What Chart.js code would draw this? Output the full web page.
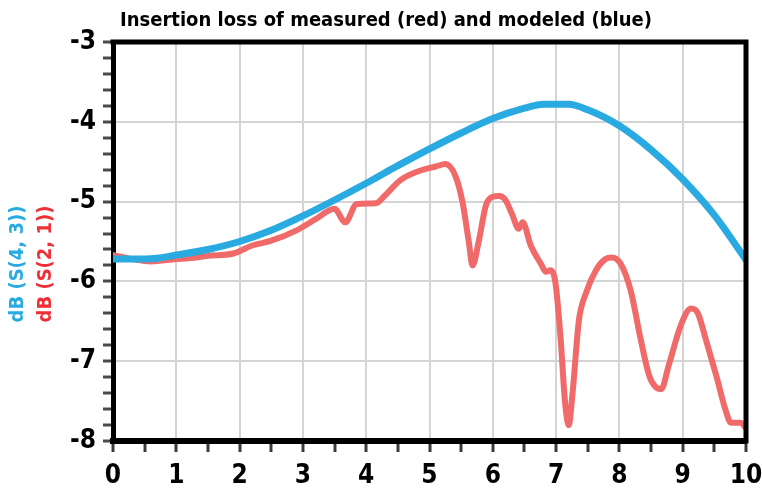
<!DOCTYPE html>
<html>
<head>
<meta charset="utf-8">
<script src="https://cdn.jsdelivr.net/npm/chart.js@4"></script>
<style>
  html, body { margin: 0; padding: 0; background: #fff; }
  #wrap { width: 762px; height: 489px; position: relative; }
</style>
</head>
<body>
<div id="wrap"><canvas id="c" width="762" height="489"></canvas></div>
<script>
// ---- data ----
const chartTitle = 'Insertion loss of measured (red) and modeled (blue)';
const yTitleModeled = 'dB (S(4, 3))';
const yTitleMeasured = 'dB (S(2, 1))';

const xTickLabels = [0, 1, 2, 3, 4, 5, 6, 7, 8, 9, 10];
const yTickLabels = [-8, -7, -6, -5, -4, -3];

// modeled (blue)
const modeledX = [0, 0.5, 0.7, 1, 1.5, 2, 2.5, 3, 3.5, 4, 4.5, 5, 5.5, 6, 6.5, 6.8, 7.2, 7.5, 8, 8.5, 9, 9.5, 10];
const modeledY = [-5.72, -5.72, -5.71, -5.67, -5.6, -5.5, -5.36, -5.18, -4.98, -4.77, -4.55, -4.34, -4.14, -3.96, -3.83, -3.78, -3.78, -3.85, -4.05, -4.35, -4.72, -5.17, -5.73];

// measured (red)
const measuredX = [0, 0.3, 0.6, 1.0, 1.2, 1.5, 1.9, 2.2, 2.5, 2.9, 3.2, 3.5, 3.67, 3.85, 4.15, 4.3, 4.54, 4.86, 5.1, 5.25, 5.41, 5.52, 5.62, 5.68, 5.78, 5.89, 6.0, 6.1, 6.2, 6.3, 6.41, 6.47, 6.6, 6.76, 6.84, 6.91, 6.99, 7.07, 7.14, 7.2, 7.26, 7.36, 7.47, 7.63, 7.78, 7.88, 8.02, 8.18, 8.34, 8.47, 8.58, 8.66, 8.78, 8.97, 9.13, 9.24, 9.37, 9.53, 9.68, 9.76, 9.92, 10];
const measuredY = [-5.67, -5.72, -5.75, -5.72, -5.71, -5.68, -5.65, -5.55, -5.49, -5.36, -5.22, -5.09, -5.26, -5.03, -5.02, -4.92, -4.73, -4.61, -4.56, -4.53, -4.68, -5.0, -5.5, -5.8, -5.49, -5.05, -4.94, -4.93, -4.98, -5.15, -5.34, -5.26, -5.55, -5.78, -5.88, -5.86, -6.02, -6.7, -7.5, -7.8, -7.4, -6.49, -6.15, -5.86, -5.72, -5.7, -5.78, -6.12, -6.74, -7.18, -7.33, -7.35, -7.05, -6.55, -6.34, -6.4, -6.74, -7.18, -7.62, -7.77, -7.77, -7.84];

const FONT = "'Liberation Sans Narrow', 'DejaVu Sans Condensed', 'Arial Narrow', sans-serif";

const toPts = (xs, ys) => xs.map((x, i) => ({ x: x, y: ys[i] }));
const isInt = v => Math.abs(v - Math.round(v)) < 1e-6;

const frameAndTitles = {
  id: 'frameAndTitles',
  afterDatasetsDraw(chart) {
    const { ctx, chartArea: a } = chart;
    ctx.save();
    ctx.strokeStyle = '#000';
    ctx.lineWidth = 5;
    ctx.beginPath();
    ctx.moveTo(a.left - 2.5, a.top);
    ctx.lineTo(a.right, a.top);
    ctx.lineTo(a.right, a.bottom + 2.5);
    ctx.stroke();
    ctx.restore();
  },
  afterDraw(chart) {
    const { ctx } = chart;
    const cy = 264;
    [[yTitleModeled, '#29abe2', 18], [yTitleMeasured, '#ee2f36', 46]].forEach(([txt, col, x]) => {
      ctx.save();
      ctx.font = "bold 20px " + FONT;
      ctx.textAlign = 'center';
      ctx.textBaseline = 'middle';
      ctx.translate(x, cy);
      ctx.rotate(-Math.PI / 2);
      ctx.fillStyle = col;
      ctx.fillText(txt, 0, 0);
      ctx.restore();
    });
  }
};

new Chart(document.getElementById('c'), {
  type: 'line',
  data: {
    datasets: [
      {
        label: 'modeled',
        data: toPts(modeledX, modeledY),
        borderColor: '#29abe2',
        borderWidth: 7,
        pointRadius: 0,
        cubicInterpolationMode: 'monotone',
        borderCapStyle: 'round',
        borderJoinStyle: 'round',
        fill: false
      },
      {
        label: 'measured',
        data: toPts(measuredX, measuredY),
        borderColor: '#f06a6a',
        borderWidth: 6,
        pointRadius: 0,
        cubicInterpolationMode: 'monotone',
        borderCapStyle: 'round',
        borderJoinStyle: 'round',
        fill: false
      }
    ]
  },
  options: {
    responsive: false,
    animation: false,
    devicePixelRatio: 1,
    layout: { padding: { left: 26, right: 16, top: 0, bottom: 0 } },
    plugins: {
      legend: { display: false },
      tooltip: { enabled: false },
      title: {
        display: true,
        text: chartTitle,
        color: '#000',
        font: { family: FONT, size: 20, weight: 'bold' },
        padding: { top: 9, bottom: 9 }
      }
    },
    scales: {
      x: {
        type: 'linear',
        min: xTickLabels[0],
        max: xTickLabels[xTickLabels.length - 1],
        afterFit(scale) { scale.height = 48; scale.paddingRight = 0; scale.paddingLeft = 0; },
        afterBuildTicks(scale) {
          const t = [];
          for (let i = 0; i <= 20; i++) t.push({ value: xTickLabels[0] + i * 0.5 });
          scale.ticks = t;
        },
        ticks: {
          autoSkip: false,
          maxRotation: 0,
          padding: 9,
          color: '#000',
          font: { family: FONT, size: 26, weight: 'bold' },
          callback: v => isInt(v) ? String(Math.round(v)) : ''
        },
        grid: {
          color: c => (c.tick && isInt(c.tick.value)) ? '#d4d4d4' : 'rgba(0,0,0,0)',
          lineWidth: 2,
          tickColor: '#3a3a3a',
          tickWidth: 3,
          tickLength: 11,
          drawTicks: true
        },
        border: { display: true, color: '#000', width: 6 }
      },
      y: {
        type: 'linear',
        min: yTickLabels[0],
        max: yTickLabels[yTickLabels.length - 1],
        afterFit(scale) { scale.width = 87; scale.paddingTop = 0; scale.paddingBottom = 0; },
        afterBuildTicks(scale) {
          const t = [];
          for (let i = 0; i <= 25; i++) t.push({ value: +(yTickLabels[0] + i * 0.2).toFixed(2) });
          scale.ticks = t;
        },
        ticks: {
          autoSkip: false,
          padding: 7,
          color: '#000',
          font: { family: FONT, size: 26, weight: 'bold' },
          callback: v => isInt(v) ? String(Math.round(v)) : ''
        },
        grid: {
          color: c => (c.tick && isInt(c.tick.value)) ? '#d4d4d4' : 'rgba(0,0,0,0)',
          lineWidth: 2,
          tickColor: '#4a4a4a',
          tickWidth: 3,
          tickLength: 10,
          drawTicks: true
        },
        border: { display: true, color: '#000', width: 5 }
      }
    }
  },
  plugins: [frameAndTitles]
});
</script>
</body>
</html>
